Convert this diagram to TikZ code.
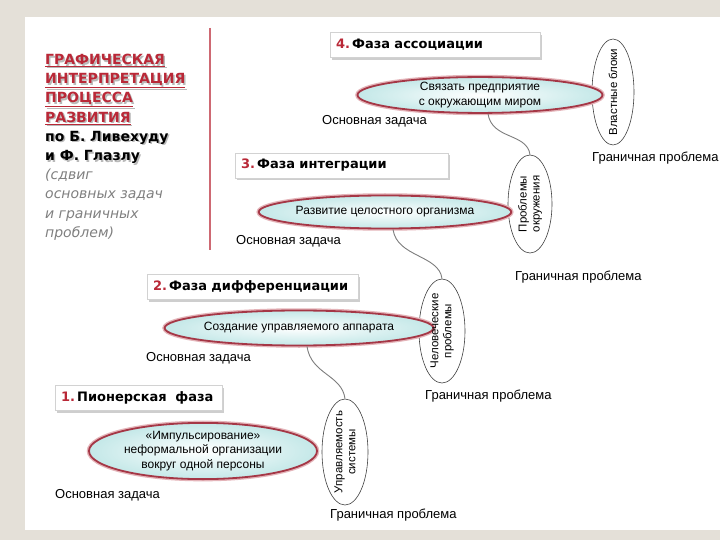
\documentclass[tikz,border=0pt]{standalone}
\usepackage{fontspec}
\setmainfont{Liberation Sans}
\newfontfamily\hdfont{DejaVu Sans}
\usetikzlibrary{shapes.geometric,shadows}
\definecolor{bgbeige}{RGB}{228,224,216}
\definecolor{titlered}{RGB}{185,40,55}
\definecolor{ringred}{RGB}{165,55,70}
\definecolor{ringglow}{RGB}{228,180,185}
\definecolor{fillcyan}{RGB}{196,232,232}
\definecolor{linegray}{RGB}{125,125,125}
\begin{document}
\begin{tikzpicture}[x=1pt,y=-1pt,
  phasebox/.style={draw=gray!35, fill=white, minimum height=25pt, inner xsep=6pt, inner ysep=0pt,
    align=left, drop shadow={shadow xshift=1.5pt,shadow yshift=-2.5pt,fill=gray!75},
    font=\hdfont\bfseries\fontsize{13}{15}\selectfont},
  mainell/.style={ellipse, draw=ringred, line width=1.8pt, preaction={draw=ringglow,line width=4.5pt},
    inner color=white, outer color=fillcyan, inner sep=0pt, align=center,
    font=\fontsize{12}{14.5}\selectfont},
  bndell/.style={ellipse, draw=black!75, fill=white, line width=0.6pt, inner sep=0pt},
  bndtxt/.style={rotate=90, inner sep=0pt, align=center, font=\fontsize{11.5}{13}\selectfont},
  lbl/.style={anchor=west, inner sep=0pt, font=\fontsize{13}{15}\selectfont},
  conn/.style={draw=linegray, line width=0.9pt},
  ttlfont/.style={font=\hdfont\bfseries\fontsize{14}{19.2}\selectfont, inner sep=0pt, align=left, anchor=north west}
]
\useasboundingbox (0,0) rectangle (720,540);
\fill[bgbeige] (0,0) rectangle (720,540);
\fill[white] (25,17) rectangle (720,530);

% title
\node[ttlfont, text=gray!55] (tshadow) at (46.5,55.5) {\underline{ГРАФИЧЕСКАЯ}\\\underline{ИНТЕРПРЕТАЦИЯ}\\\underline{ПРОЦЕССА}\\\underline{РАЗВИТИЯ}\\по Б. Ливехуду\\и Ф. Глазлу};
\node[ttlfont] (title) at (45,54) {{\color{titlered}\underline{ГРАФИЧЕСКАЯ}}\\{\color{titlered}\underline{ИНТЕРПРЕТАЦИЯ}}\\{\color{titlered}\underline{ПРОЦЕССА}}\\{\color{titlered}\underline{РАЗВИТИЯ}}\\по Б. Ливехуду\\и Ф. Глазлу\\{\mdseries\itshape\color{gray}(сдвиг}\\{\mdseries\itshape\color{gray}основных задач}\\{\mdseries\itshape\color{gray}и граничных}\\{\mdseries\itshape\color{gray}проблем)}};
\coordinate (vtop) at (210,28);
\coordinate (vbot) at (210,250);
\draw[titlered!70, line width=1.3pt] (vtop) -- (vbot);

% boundary ellipses
\node[bndell, minimum width=42pt, minimum height=106pt] (b4) at (613,92) {};
\node[bndell, minimum width=44pt, minimum height=98pt] (b3) at (530,204) {};
\node[bndell, minimum width=46pt, minimum height=104pt] (b2) at (442,331) {};
\node[bndell, minimum width=46pt, minimum height=106pt] (b1) at (345,452) {};

% main ellipses
\node[mainell, minimum width=245pt, minimum height=35pt] (e4) at (480,95) {Связать предприятие\\с окружающим миром};
\node[mainell, minimum width=225pt, minimum height=33pt] (e3) at (385,212) {Развитие целостного организма};
\node[mainell, minimum width=236pt, minimum height=35pt] (e2) at (299,328) {Создание управляемого аппарата};
\node[mainell, minimum width=228pt, minimum height=54pt] (e1) at (203,451) {«Импульсирование»\\неформальной организации\\вокруг одной персоны};

% boundary texts
\node[bndtxt] (b4t) at (b4.center) {Властные блоки};
\node[bndtxt] (b3t) at (b3.center) {Проблемы\\окружения};
\node[bndtxt] (b2t) at (b2.center) {Человеческие\\проблемы};
\node[bndtxt] (b1t) at (b1.center) {Управляемость\\системы};

% connectors
\draw[conn] ([xshift=8pt]e4.south) .. controls +(4,26) and +(-3,-22) .. (b3.north);
\draw[conn] ([xshift=8pt]e3.south) .. controls +(4,28) and +(-3,-24) .. (b2.north);
\draw[conn] ([xshift=8pt]e2.south) .. controls +(4,28) and +(-3,-24) .. (b1.north);

% phase headers
\node[phasebox, text width=198pt] (h4) at (435,45) {\mbox{{\color{titlered}4.}\,Фаза ассоциации}};
\node[phasebox, text width=201pt] (h3) at (341.5,165.5) {\mbox{{\color{titlered}3.}\,Фаза интеграции}};
\node[phasebox, text width=199pt] (h2) at (252.5,286.5) {\mbox{{\color{titlered}2.}\,Фаза дифференциации}};
\node[phasebox, text width=155pt] (h1) at (138.5,397.5) {\mbox{{\color{titlered}1.}\,Пионерская\ \ фаза}};

% labels
\node[lbl] (m4) at (322,121) {Основная задача};
\node[lbl] (m3) at (236,241) {Основная задача};
\node[lbl] (m2) at (146,358) {Основная задача};
\node[lbl] (m1) at (55,495) {Основная задача};
\node[lbl] (g4) at (592,158) {Граничная проблема};
\node[lbl] (g3) at (515,277) {Граничная проблема};
\node[lbl] (g2) at (425,396) {Граничная проблема};
\node[lbl] (g1) at (330,515) {Граничная проблема};
\end{tikzpicture}
\end{document}
